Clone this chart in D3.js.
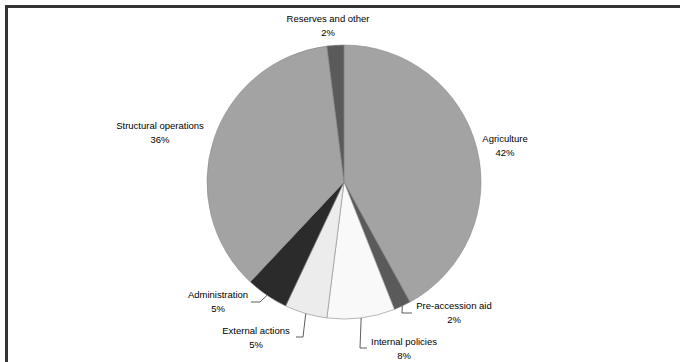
<!DOCTYPE html>
<html>
<head>
<meta charset="utf-8">
<script src="https://cdn.jsdelivr.net/npm/d3@7"></script>
<style>
  html, body { margin: 0; padding: 0; background: #fff; }
  svg { display: block; }
  text { font-family: "Liberation Sans", Arial, sans-serif; font-size: 9.5px; fill: #000; }
</style>
</head>
<body>
<svg id="chart" width="680" height="362"></svg>
<script>
// Budget shares, clockwise from 12 o'clock
const categories = ["Agriculture", "Pre-accession aid", "Internal policies", "External actions",
                    "Administration", "Structural operations", "Reserves and other"];
const shares = [42, 2, 8, 5, 5, 36, 2];
const percentLabels = ["42%", "2%", "8%", "5%", "5%", "36%", "2%"];

// Slice fills
const fills = ["#a3a3a3", "#5a5a5a", "#f9f9f9", "#ececec", "#2b2b2b", "#a3a3a3", "#5a5a5a"];

// Label placement: text centre (x, baseline of first line) and, where present, the leader elbow/end
const labelLayout = [
  { x: 505, y: 142, leader: null },
  { x: 454, y: 309, leader: { elbow: [402, 313], end: [412, 313] } },
  { x: 404, y: 345, leader: { elbow: [360, 348], end: [367, 348] } },
  { x: 256, y: 334, leader: { elbow: [303, 337], end: [296, 337] } },
  { x: 218, y: 298, leader: { elbow: [260, 302], end: [251, 302] } },
  { x: 160, y: 129, leader: null },
  { x: 328, y: 22, leader: null }
];
const lineGap = 14;

const svg = d3.select("#chart");
const cx = 344, cy = 182, radius = 137;

// Outer frame (extends past the right and bottom edges)
svg.append("rect")
  .attr("x", 6.5).attr("y", 6.5)
  .attr("width", 720).attr("height", 420)
  .attr("fill", "none")
  .attr("stroke", "#333")
  .attr("stroke-width", 3);

const data = categories.map((c, i) => ({ name: c, value: shares[i], pct: percentLabels[i], fill: fills[i], layout: labelLayout[i] }));

const pie = d3.pie().value(d => d.value).sort(null);
const arcs = pie(data);
const arc = d3.arc().innerRadius(0).outerRadius(radius);

const g = svg.append("g").attr("transform", `translate(${cx},${cy})`);

g.selectAll("path.slice")
  .data(arcs)
  .join("path")
  .attr("class", "slice")
  .attr("d", arc)
  .attr("fill", d => d.data.fill)
  .attr("stroke", "#8a8a8a")
  .attr("stroke-width", 0.6);

// Leader lines from the slice edge at its mid-angle
const edgePoint = d => {
  const a = (d.startAngle + d.endAngle) / 2;
  return [cx + radius * Math.sin(a), cy - radius * Math.cos(a)];
};

svg.selectAll("polyline.leader")
  .data(arcs.filter(d => d.data.layout.leader))
  .join("polyline")
  .attr("class", "leader")
  .attr("points", d => {
    const p0 = edgePoint(d);
    const l = d.data.layout.leader;
    return [p0, l.elbow, l.end].map(p => p.join(",")).join(" ");
  })
  .attr("fill", "none")
  .attr("stroke", "#333")
  .attr("stroke-width", 0.8);

const labels = svg.selectAll("g.label")
  .data(arcs)
  .join("g")
  .attr("class", "label")
  .attr("transform", d => `translate(${d.data.layout.x},${d.data.layout.y})`);

labels.append("text")
  .attr("text-anchor", "middle")
  .text(d => d.data.name);

labels.append("text")
  .attr("text-anchor", "middle")
  .attr("y", lineGap)
  .text(d => d.data.pct);
</script>
</body>
</html>
